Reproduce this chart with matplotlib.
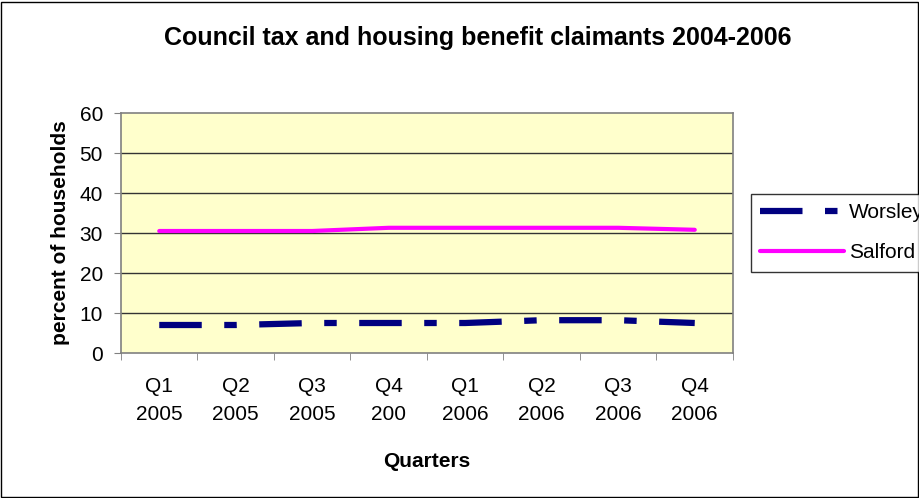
import matplotlib.pyplot as plt
from matplotlib.patches import Rectangle

plt.rcParams['font.family'] = ['Liberation Sans', 'DejaVu Sans']

# data
quarters = ['Q1\n2005', 'Q2\n2005', 'Q3\n2005', 'Q4\n200',
            'Q1\n2006', 'Q2\n2006', 'Q3\n2006', 'Q4\n2006']
worsley = [7.0, 7.0, 7.5, 7.5, 7.5, 8.2, 8.2, 7.5]
salford = [30.5, 30.5, 30.5, 31.3, 31.3, 31.3, 31.3, 30.8]
y_ticks = [0, 10, 20, 30, 40, 50, 60]

W, H = 920, 498
fig = plt.figure(figsize=(W / 100, H / 100), dpi=100)
fig.patch.set_facecolor('white')

# outer chart border
fig.add_artist(Rectangle((1 / W, 1 / H), (W - 3) / W, (H - 3) / H,
                         transform=fig.transFigure, fill=False,
                         edgecolor='black', linewidth=1))

ax = fig.add_axes([121 / W, 1 - 353 / H, (733 - 121) / W, (353 - 113) / H])
ax.set_facecolor('#FFFFCC')

x = list(range(len(quarters)))
ax.plot(x, worsley, color='#000080', linewidth=4.5, dashes=(6.8, 3.6, 2.0, 3.6),
        dash_capstyle='butt', label='Worsley')
ax.plot(x, salford, color='#FF00FF', linewidth=3.0, solid_capstyle='round',
        label='Salford')

ax.set_xlim(-0.5, len(quarters) - 0.5)
ax.set_ylim(0, 60)
ax.set_yticks(y_ticks)
ax.set_yticklabels([str(v) for v in y_ticks], fontsize=15)
for v in y_ticks[1:-1]:
    ax.axhline(v, color='#333333', linewidth=1, zorder=0.5)

ax.set_xticks(x)
ax.set_xticklabels(quarters, fontsize=15, linespacing=1.65)
ax.set_xticks([i - 0.5 for i in range(len(quarters) + 1)], minor=True)
ax.tick_params(axis='x', which='major', length=0, pad=17)
ax.tick_params(axis='x', which='minor', length=5, direction='out', color='#808080')
ax.tick_params(axis='y', length=5, direction='out', color='#808080', pad=8)

for s in ax.spines.values():
    s.set_color('#808080')
    s.set_linewidth(1.2)

ax.set_xlabel('Quarters', fontsize=15, fontweight='bold', labelpad=20)
ax.set_ylabel('percent of households', fontsize=15, fontweight='bold', labelpad=7)

fig.text(478 / W, 1 - 38 / H, 'Council tax and housing benefit claimants 2004-2006',
         ha='center', va='center', fontsize=18, fontweight='bold')

leg = fig.legend(loc='upper left', bbox_to_anchor=(751 / W, 1 - 194 / H),
                 fontsize=15, frameon=True, fancybox=False, handlelength=4.0,
                 borderpad=0.45, borderaxespad=0, labelspacing=1.0,
                 handletextpad=0.25)
leg.get_frame().set_edgecolor('black')
leg.get_frame().set_linewidth(1)

fig.savefig('out.png', dpi=100)
